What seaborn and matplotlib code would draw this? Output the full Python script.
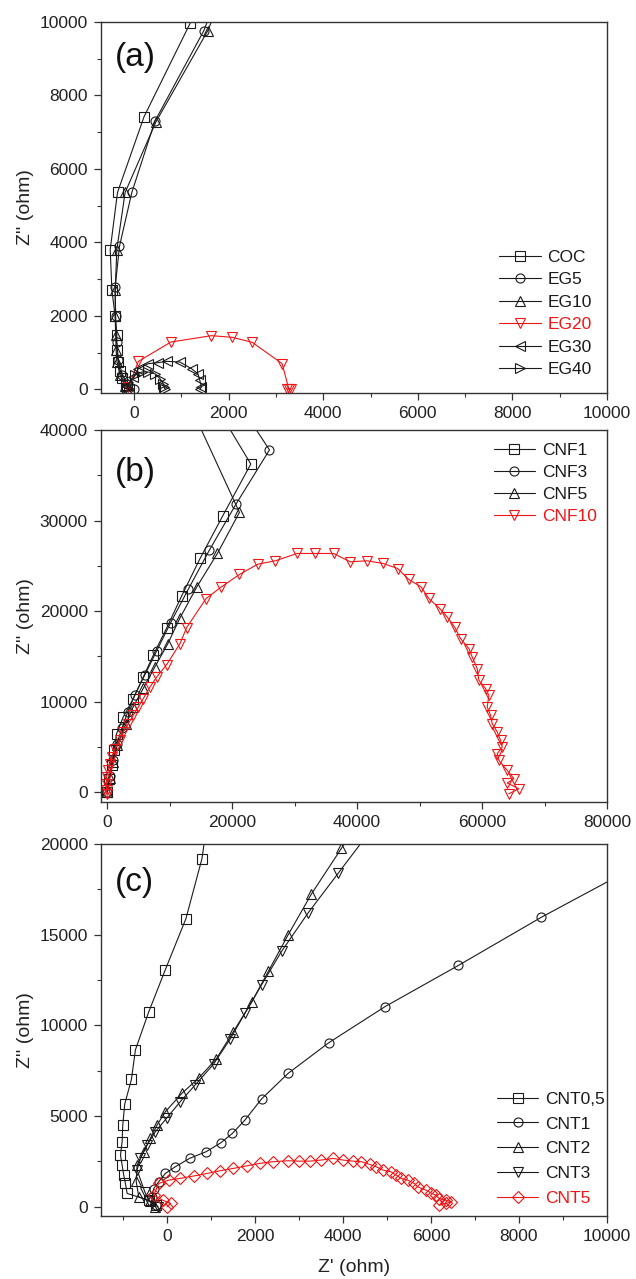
import pandas as pd
import seaborn as sns
import matplotlib
matplotlib.use('Agg')
import matplotlib.pyplot as plt
from matplotlib.ticker import MultipleLocator

# ---- panel (a): EG series ----
coc_x = [-100, -180, -250, -300, -330, -365, -365, -400, -470, -505, -351, 210, 1192, 1500]
coc_y = [20, 120, 300, 500, 744, 1063, 1471, 1989, 2700, 3806, 5360, 7420, 9984, 11000]
eg5_x = [0, -150, -250, -330, -370, -390, -400, -309, -48, 440, 1474, 1850]
eg5_y = [0, 150, 400, 800, 1300, 2000, 2788, 3896, 5360, 7300, 9763, 11000]
eg10_x = [-80, -200, -300, -360, -380, -390, -400, -400, -365, -190, 463, 1558, 1950]
eg10_y = [0, 100, 400, 744, 1063, 1471, 1989, 2700, 3806, 5360, 7284, 9763, 11000]
eg20_x = [-120, 91, 779, 1635, 2077, 2498, 3130, 3270, 3310, 3240]
eg20_y = [63, 763, 1289, 1461, 1417, 1281, 700, 20, 10, 5]
eg30_x = [-150, -14, 91, 300, 512, 686, 968, 1214, 1351, 1389, 1425, 1400]
eg30_y = [100, 335, 563, 700, 727, 763, 744, 563, 425, 245, 63, 20]
eg40_x = [-150, 21, 161, 300, 442, 547, 617, 653, 640]
eg40_y = [50, 381, 472, 472, 425, 291, 155, 20, 60]

# ---- panel (b): CNF series ----
cnf1_x = [0, 300, 700, 1100, 1500, 2560, 4170, 5770, 7370, 9520, 11920, 14860, 18490, 22980, 15360]
cnf1_y = [0, 1500, 3000, 4700, 6460, 8300, 10330, 12720, 15120, 18140, 21680, 25810, 30520, 36240, 45000]
cnf3_x = [0, 400, 900, 1500, 2400, 3270, 4440, 6040, 7920, 10160, 12980, 16350, 20580, 25970, 19100]
cnf3_y = [0, 1800, 3500, 5300, 7120, 8850, 10770, 12980, 15610, 18730, 22420, 26730, 31780, 37800, 45000]
cnf5_x = [0, 400, 900, 1600, 2990, 4170, 5770, 7640, 9660, 11650, 14330, 17630, 21160, 11740]
cnf5_y = [0, 1600, 3300, 5200, 7560, 9440, 11470, 13850, 16340, 19250, 22660, 26360, 30900, 45000]
cnf10_x = [0, -110, -110, -110, 160, 430, 700, 1230, 2030, 2560,
           3360, 4170, 4970, 5770, 6840, 7920, 9520, 11650, 12720, 15820,
           18270, 21160, 24100, 26900, 30380, 33300, 36240, 38900, 41580, 44140,
           46490, 48260, 50240, 51470, 53230, 54410, 55590, 56550, 57890, 58420,
           59220, 59490, 60560, 61090, 60830, 61360, 61630, 62430, 62960, 63230,
           62430, 62700, 64030, 65100, 64030, 65900, 64300]
cnf10_y = [-180, 190, 930, 1660, 2400, 3140, 3880, 4800, 5720, 6640,
           7560, 8480, 9400, 10330, 11610, 12720, 14090, 16410, 18180, 21380,
           22670, 24040, 25180, 25550, 26360, 26360, 26360, 25440, 25550, 25260,
           24700, 23490, 22670, 21390, 20280, 19350, 18250, 16960, 15860, 14930,
           13650, 12350, 11430, 10690, 9400, 8480, 7560, 6640, 5720, 4980,
           4250, 3500, 2400, 1480, 1000, 370, -180]

# ---- panel (c): CNT series ----
cnt05_x = [-250, -417, -906, -945, -983, -1020, -1057, -1020, -1005, -960, -808, -718, -417, -38, 430, 795, 900]
cnt05_y = [100, 370, 740, 1290, 1750, 2300, 2850, 3590, 4510, 5670, 7030, 8650, 10730, 13070, 15880, 19190, 21000]
cnt1_x = [-250, -340, -302, -189, -38, 189, 512, 890, 1223, 1487, 1774, 2150, 2755, 3680, 4960, 6620, 8510, 11000]
cnt1_y = [100, 560, 1010, 1380, 1840, 2210, 2670, 3040, 3530, 4050, 4790, 5950, 7360, 9050, 11040, 13300, 15960, 19200]
cnt2_x = [-264, -378, -642, -700, -680, -529, -378, -226, -38, 340, 717, 1117, 1510, 1925, 2302, 2755, 3283, 3963, 4300]
cnt2_y = [0, 300, 550, 1400, 2300, 3040, 3770, 4510, 5240, 6260, 7090, 8140, 9660, 11280, 12970, 15000, 17240, 19750, 21000]
cnt3_x = [-200, -400, -500, -680, -604, -453, -264, 0, 302, 642, 1057, 1434, 1774, 2151, 2604, 3208, 3887, 4710]
cnt3_y = [0, 300, 800, 2030, 2670, 3410, 4140, 4910, 5800, 6720, 7860, 9240, 10680, 12240, 14080, 16200, 18370, 21000]
cnt5_x = [0, 80, -100, -302, -189, 38, 302, 604, 906, 1208,
          1510, 1812, 2113, 2415, 2755, 3000, 3245, 3509, 3774, 4000,
          4226, 4415, 4604, 4755, 4906, 5094, 5208, 5321, 5472, 5623,
          5698, 5887, 6000, 6113, 6189, 6340, 6453, 6340, 6189]
cnt5_y = [0, 200, 370, 640, 1290, 1470, 1570, 1700, 1840, 1990,
          2120, 2260, 2400, 2490, 2540, 2520, 2520, 2580, 2670, 2580,
          2520, 2490, 2340, 2210, 2030, 1930, 1750, 1570, 1470, 1290,
          1100, 920, 770, 640, 460, 370, 280, 190, 100]

BLACK = '#1a1a1a'
RED = '#f01515'

sns.set_theme(style='ticks')
plt.rcParams['font.family'] = ['Liberation Sans', 'DejaVu Sans']


def draw_panel(ax, series, xlim, ylim, xmaj, xmin, ymaj, ymin, tag, tag_y, leg_loc, leg_anchor, leg_space):
    for name, xs, ys, marker, color in series:
        df = pd.DataFrame({'x': xs, 'y': ys})
        sns.lineplot(data=df, x='x', y='y', sort=False, estimator=None, ax=ax,
                     color=color, lw=0.8, marker=marker, markersize=6.5,
                     markerfacecolor='none', markeredgecolor=color,
                     markeredgewidth=0.8, label=name)
    ax.set_xlim(*xlim)
    ax.set_ylim(*ylim)
    ax.xaxis.set_major_locator(MultipleLocator(xmaj))
    ax.xaxis.set_minor_locator(MultipleLocator(xmin))
    ax.yaxis.set_major_locator(MultipleLocator(ymaj))
    ax.yaxis.set_minor_locator(MultipleLocator(ymin))
    ax.tick_params(which='both', direction='out', top=False, right=False,
                   colors='#333333', labelsize=12.5, labelcolor='#222222')
    ax.tick_params(which='major', length=5, width=0.9, pad=4.5)
    ax.tick_params(which='minor', length=3, width=0.8)
    for sp in ax.spines.values():
        sp.set_visible(True)
        sp.set_color('#333333')
        sp.set_linewidth(1.0)
    ax.set_xlabel('')
    ax.set_ylabel("Z'' (ohm)", fontsize=14, color='#222222')
    ax.text(0.028, tag_y, tag, transform=ax.transAxes, fontsize=24,
            ha='left', va='center', color='#111111')
    leg = ax.legend(loc=leg_loc, bbox_to_anchor=leg_anchor, frameon=False,
                    fontsize=12.5, handlelength=2.4, handletextpad=0.4,
                    labelspacing=leg_space, borderaxespad=0)
    for text, s in zip(leg.get_texts(), series):
        text.set_color(s[4])


fig = plt.figure(figsize=(6.36, 12.79), dpi=100)

ax_a = fig.add_axes([0.1588, 0.6927, 0.7956, 0.2901])
draw_panel(ax_a, [
    ('COC', coc_x, coc_y, 's', BLACK),
    ('EG5', eg5_x, eg5_y, 'o', BLACK),
    ('EG10', eg10_x, eg10_y, '^', BLACK),
    ('EG20', eg20_x, eg20_y, 'v', RED),
    ('EG30', eg30_x, eg30_y, '<', BLACK),
    ('EG40', eg40_x, eg40_y, '>', BLACK),
], (-700, 10000), (-100, 10000), 2000, 1000, 2000, 1000,
    '(a)', 0.903, 'lower right', (0.984, 0.024), 0.42)

ax_b = fig.add_axes([0.1588, 0.3729, 0.7956, 0.2909])
draw_panel(ax_b, [
    ('CNF1', cnf1_x, cnf1_y, 's', BLACK),
    ('CNF3', cnf3_x, cnf3_y, 'o', BLACK),
    ('CNF5', cnf5_x, cnf5_y, '^', BLACK),
    ('CNF10', cnf10_x, cnf10_y, 'v', RED),
], (-1000, 80000), (-1100, 40000), 20000, 10000, 10000, 5000,
    '(b)', 0.887, 'upper right', (0.994, 0.985), 0.41)

ax_c = fig.add_axes([0.1588, 0.0493, 0.7956, 0.2909])
draw_panel(ax_c, [
    ('CNT0,5', cnt05_x, cnt05_y, 's', BLACK),
    ('CNT1', cnt1_x, cnt1_y, 'o', BLACK),
    ('CNT2', cnt2_x, cnt2_y, '^', BLACK),
    ('CNT3', cnt3_x, cnt3_y, 'v', BLACK),
    ('CNT5', cnt5_x, cnt5_y, 'D', RED),
], (-1500, 10000), (-500, 20000), 2000, 1000, 5000, 2500,
    '(c)', 0.895, 'lower right', (1.01, 0.009), 0.55)
ax_c.set_xlabel("Z' (ohm)", fontsize=14, color='#222222', labelpad=11)

fig.savefig('out.png', dpi=100)
